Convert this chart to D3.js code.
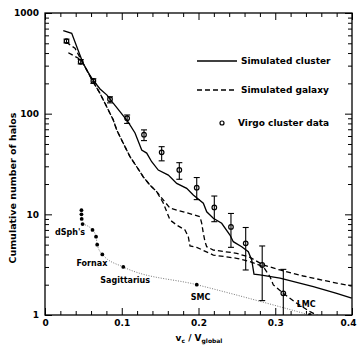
<!DOCTYPE html>
<html>
<head>
<meta charset="utf-8">
<script src="https://cdn.jsdelivr.net/npm/d3@7"></script>
<style>
  body { margin: 0; background: #fff; }
  svg { display: block; }
  text { font-family: "DejaVu Sans", sans-serif; font-weight: bold; fill: #000; }
</style>
</head>
<body>
<div id="chart"></div>
<script>
// simulated cluster (solid)
var clusterV = [0.0238, 0.0348, 0.0391, 0.043, 0.0495, 0.056, 0.0625, 0.0717, 0.0808, 0.0886, 0.0977, 0.108, 0.1173, 0.126, 0.1325, 0.139, 0.1476, 0.1607, 0.1716, 0.1846, 0.1932, 0.2063, 0.2107, 0.2193, 0.2302, 0.241, 0.2453, 0.2563, 0.2649, 0.2693, 0.2723, 0.2801, 0.3062, 0.3496, 0.38, 0.3996];
var clusterN = [667, 629, 515, 429, 318, 259, 216, 176, 153, 128, 105, 83.2, 64.3, 43.5, 40.6, 33.3, 27.5, 24.5, 20.3, 18.1, 15.6, 12.9, 10.6, 9.13, 8.15, 6.23, 5.35, 4.77, 4.25, 3.52, 2.55, 2.5, 2.32, 1.91, 1.64, 1.47];

// simulated galaxies (dashed), two runs
var galaxyAV = [0.0274, 0.0391, 0.0495, 0.0625, 0.0717, 0.0804, 0.089, 0.0934, 0.102, 0.1107, 0.1195, 0.128, 0.1368, 0.1455, 0.1541, 0.1629, 0.1802, 0.2019, 0.2042, 0.2063, 0.2085, 0.2107, 0.2193, 0.2498, 0.2671, 0.2844, 0.3062, 0.3366, 0.3713, 0.3996];
var galaxyAN = [515, 446, 318, 208, 159, 117, 86.5, 68.9, 50.8, 37.4, 29.7, 23.6, 19.5, 16.8, 13.9, 11.5, 10.6, 9.47, 8.15, 6.48, 5.35, 4.77, 4.42, 4.1, 3.74, 3.14, 2.8, 2.44, 2.14, 1.94];
var galaxyBV = [0.0304, 0.0434, 0.0495, 0.0625, 0.0717, 0.0804, 0.089, 0.0934, 0.102, 0.1107, 0.1195, 0.128, 0.1368, 0.1455, 0.1541, 0.1629, 0.1716, 0.1824, 0.1867, 0.1889, 0.1977, 0.2193, 0.2498, 0.2671, 0.2844, 0.2932, 0.2975, 0.3105, 0.328, 0.3453, 0.3583];
var galaxyBN = [403, 355, 318, 208, 159, 117, 86.5, 68.9, 50.8, 37.4, 29.7, 23.6, 19.5, 16.8, 12.96, 8.78, 7.83, 6.99, 6.0, 4.85, 4.7, 3.94, 3.66, 3.39, 3.02, 2.4, 1.99, 1.64, 1.31, 1.08, 0.96];

// Virgo cluster data with error bars
var virgoV = [0.028, 0.0465, 0.063, 0.0847, 0.107, 0.129, 0.152, 0.175, 0.1977, 0.2206, 0.2423, 0.2615, 0.283, 0.3105];
var virgoN = [526, 328, 211, 139, 90, 61.8, 41.3, 27.6, 18.4, 11.7, 7.5, 5.15, 3.14, 1.64];
var virgoLo = [505, 312, 200, 128, 80, 54, 34, 22.3, 14, 8.45, 4.7, 2.8, 1.39, 0.9];
var virgoHi = [550, 345, 222, 147, 97, 69, 47, 32.6, 23.2, 15.2, 10.2, 7.4, 4.85, 2.84];

// Local Group satellites
var dsphV = [0.0475, 0.0475, 0.0478, 0.049, 0.0619, 0.0665, 0.068, 0.0747, 0.102, 0.1977, 0.345];
var dsphN = [11, 10, 9, 8, 7, 6, 5, 4, 3, 2, 1];
var dsphNames = ["dSph's", "Fornax", "Sagittarius", "SMC", "LMC"];

var xMajor = [0, 0.1, 0.2, 0.3, 0.4];
var yMajor = [1, 10, 100, 1000];

var width = 358, height = 348;
var margin = { top: 13, right: 6, bottom: 33, left: 45 };

var svg = d3.select("#chart").append("svg")
  .attr("width", width)
  .attr("height", height);

var x = d3.scaleLinear().domain([0, 0.4]).range([margin.left, width - margin.right]);
var y = d3.scaleLog().domain([1, 1000]).range([height - margin.bottom, margin.top]);

var xMinor = d3.range(0.02, 0.4, 0.02).filter(function (d) { return Math.abs(d * 10 - Math.round(d * 10)) > 1e-6; });
var yMinor = [];
[1, 10, 100].forEach(function (e) { for (var k = 2; k < 10; k++) yMinor.push(k * e); });

function clean(g) { g.select(".domain").remove(); g.selectAll("line").attr("stroke", "#000"); }

// axes, ticks pointing inwards
var bottom = svg.append("g").attr("transform", "translate(0," + y.range()[0] + ")")
  .call(d3.axisBottom(x).tickValues(xMajor).tickSize(-7).tickPadding(5)
    .tickFormat(function (d) { return d === 0 ? "0" : d3.format(".1f")(d); }))
  .call(clean);
bottom.selectAll("text").style("font-size", "9px").style("font-family", "DejaVu Sans");
// last label sits against the page edge
bottom.selectAll(".tick").filter(function (d) { return d === 0.4; }).select("text").attr("dx", -4);

svg.append("g").attr("transform", "translate(0," + y.range()[0] + ")")
  .call(d3.axisBottom(x).tickValues(xMinor).tickSize(-4).tickFormat(""))
  .call(clean);
svg.append("g").attr("transform", "translate(0," + y.range()[1] + ")")
  .call(d3.axisTop(x).tickValues(xMajor).tickSize(-7).tickFormat(""))
  .call(clean);
svg.append("g").attr("transform", "translate(0," + y.range()[1] + ")")
  .call(d3.axisTop(x).tickValues(xMinor).tickSize(-4).tickFormat(""))
  .call(clean);

svg.append("g").attr("transform", "translate(" + x.range()[0] + ",0)")
  .call(d3.axisLeft(y).tickValues(yMajor).tickSize(-7).tickPadding(6).tickFormat(d3.format("d")))
  .call(clean)
  .selectAll("text").style("font-size", "9px").style("font-family", "DejaVu Sans");
svg.append("g").attr("transform", "translate(" + x.range()[0] + ",0)")
  .call(d3.axisLeft(y).tickValues(yMinor).tickSize(-4).tickFormat(""))
  .call(clean);
svg.append("g").attr("transform", "translate(" + x.range()[1] + ",0)")
  .call(d3.axisRight(y).tickValues(yMajor).tickSize(-7).tickFormat(""))
  .call(clean);
svg.append("g").attr("transform", "translate(" + x.range()[1] + ",0)")
  .call(d3.axisRight(y).tickValues(yMinor).tickSize(-4).tickFormat(""))
  .call(clean);

// frame
svg.append("rect")
  .attr("x", x.range()[0]).attr("y", y.range()[1])
  .attr("width", x.range()[1] - x.range()[0])
  .attr("height", y.range()[0] - y.range()[1])
  .attr("fill", "none").attr("stroke", "#000").attr("stroke-width", 1.3);

svg.append("clipPath").attr("id", "plot")
  .append("rect")
  .attr("x", x.range()[0]).attr("y", y.range()[1])
  .attr("width", x.range()[1] - x.range()[0])
  .attr("height", y.range()[0] - y.range()[1]);

var plot = svg.append("g").attr("clip-path", "url(#plot)");

function pairs(vs, ns) { return vs.map(function (v, i) { return [v, ns[i]]; }); }
var line = d3.line().x(function (d) { return x(d[0]); }).y(function (d) { return y(d[1]); });

plot.append("path").datum(pairs(clusterV, clusterN))
  .attr("fill", "none").attr("stroke", "#000").attr("stroke-width", 1.3)
  .attr("d", line);
[pairs(galaxyAV, galaxyAN), pairs(galaxyBV, galaxyBN)].forEach(function (g) {
  plot.append("path").datum(g)
    .attr("fill", "none").attr("stroke", "#000").attr("stroke-width", 1.3)
    .attr("stroke-dasharray", "5,3")
    .attr("d", line);
});

// dotted curve through the satellites
var dsph = pairs(dsphV, dsphN);
plot.append("path").datum(dsph.slice(3))
  .attr("fill", "none").attr("stroke", "#777").attr("stroke-width", 1)
  .attr("stroke-dasharray", "1,1.5")
  .attr("d", d3.line().curve(d3.curveMonotoneX).x(function (d) { return x(d[0]); }).y(function (d) { return y(d[1]); }));
plot.selectAll(".sat").data(dsph).enter().append("circle")
  .attr("cx", function (d) { return x(d[0]); })
  .attr("cy", function (d) { return y(d[1]); })
  .attr("r", 1.9).attr("fill", "#000");

// Virgo error bars
var virgo = virgoV.map(function (v, i) { return { v: v, n: virgoN[i], lo: Math.max(virgoLo[i], 1), hi: virgoHi[i] }; });
var eb = plot.selectAll(".eb").data(virgo).enter().append("g").attr("stroke", "#000").attr("stroke-width", 1.1);
eb.append("line")
  .attr("x1", function (d) { return x(d.v); }).attr("x2", function (d) { return x(d.v); })
  .attr("y1", function (d) { return y(d.lo); }).attr("y2", function (d) { return y(d.hi); });
eb.append("line")
  .attr("x1", function (d) { return x(d.v) - 3; }).attr("x2", function (d) { return x(d.v) + 3; })
  .attr("y1", function (d) { return y(d.hi); }).attr("y2", function (d) { return y(d.hi); });
eb.filter(function (d) { return d.lo > 1; }).append("line")
  .attr("x1", function (d) { return x(d.v) - 3; }).attr("x2", function (d) { return x(d.v) + 3; })
  .attr("y1", function (d) { return y(d.lo); }).attr("y2", function (d) { return y(d.lo); });
plot.selectAll(".vpt").data(virgo).enter().append("circle")
  .attr("cx", function (d) { return x(d.v); })
  .attr("cy", function (d) { return y(d.n); })
  .attr("r", 2.3).attr("fill", "none").attr("stroke", "#000").attr("stroke-width", 1.2);

// satellite labels (baseline positions in data units)
var labelPos = [[0.013, 6.2], [0.041, 3.05], [0.072, 2.08], [0.19, 1.41], [0.328, 1.2]];
dsphNames.forEach(function (t, i) {
  svg.append("text")
    .attr("x", x(labelPos[i][0])).attr("y", y(labelPos[i][1]))
    .style("font-size", "8px")
    .text(t);
});

// legend
var legend = svg.append("g");
var legendItems = ["Simulated cluster", "Simulated galaxy", "Virgo cluster data"];
var legendY = [61, 90, 123];
legend.append("line").attr("x1", 197).attr("x2", 237).attr("y1", legendY[0]).attr("y2", legendY[0])
  .attr("stroke", "#000").attr("stroke-width", 1.3);
legend.append("line").attr("x1", 197).attr("x2", 237).attr("y1", legendY[1]).attr("y2", legendY[1])
  .attr("stroke", "#000").attr("stroke-width", 1.3).attr("stroke-dasharray", "5,3");
legend.append("circle").attr("cx", 222).attr("cy", legendY[2]).attr("r", 2)
  .attr("fill", "none").attr("stroke", "#000").attr("stroke-width", 1.2);
legendItems.forEach(function (t, i) {
  legend.append("text").attr("x", i === 2 ? 238 : 241).attr("y", legendY[i] + 3)
    .style("font-size", "9px").text(t);
});

// axis titles
svg.append("text")
  .attr("transform", "translate(16,188) rotate(-90)")
  .attr("text-anchor", "middle")
  .style("font-size", "9.5px")
  .text("Cumulative number of halos");

var xt = svg.append("text").attr("x", 199).attr("y", 341).attr("text-anchor", "middle").style("font-size", "9px");
xt.append("tspan").text("v");
xt.append("tspan").attr("dy", 2).style("font-size", "6px").text("c");
xt.append("tspan").attr("dy", -2).text(" / V");
xt.append("tspan").attr("dy", 2).style("font-size", "6px").text("global");
</script>
</body>
</html>
